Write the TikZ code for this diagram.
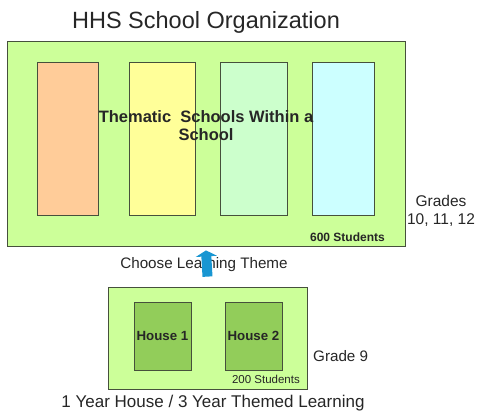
\documentclass[tikz,border=0pt]{standalone}
\usepackage{xcolor}
\usepackage{fontspec}
\setmainfont{Liberation Sans}
\usepackage{tikz}
\usetikzlibrary{arrows.meta}
\definecolor{HHSLime}{RGB}{204,255,153}
\definecolor{HHSOrange}{RGB}{255,204,153}
\definecolor{HHSYellow}{RGB}{255,255,153}
\definecolor{HHSMint}{RGB}{204,255,204}
\definecolor{HHSCyan}{RGB}{204,255,255}
\definecolor{HHSHouse}{RGB}{146,205,90}
\definecolor{HHSBlue}{RGB}{25,150,210}
\definecolor{HHSLine}{RGB}{70,80,60}

\begin{document}
\begin{tikzpicture}[x=1pt, y=-1pt, every node/.style={inner sep=0pt, text=black!85}]
    \useasboundingbox (0,0) rectangle (477,420);
    \node (Title) at (206,22) {\fontsize{23.5}{28}\selectfont HHS School Organization};

    \node (Upper) [draw=HHSLine, line width=0.8pt, rectangle, minimum width=398, minimum height=205, fill=HHSLime] at (206,144) {};
    \node (Col1) [draw=HHSLine, line width=0.8pt, rectangle, minimum width=61, minimum height=153, fill=HHSOrange] at (67.5,138.5) {};
    \node (Col2) [draw=HHSLine, line width=0.8pt, rectangle, minimum width=66, minimum height=153, fill=HHSYellow] at (162,138.5) {};
    \node (Col3) [draw=HHSLine, line width=0.8pt, rectangle, minimum width=67, minimum height=153, fill=HHSMint] at (253.5,138.5) {};
    \node (Col4) [draw=HHSLine, line width=0.8pt, rectangle, minimum width=62, minimum height=153, fill=HHSCyan] at (343,138.5) {};
    \node (Thematic) [align=center, font=\bfseries\fontsize{16.5}{18}\selectfont] at (206,126) {Thematic\ \ Schools Within a\\School};
    \node (Six) [anchor=east, font=\bfseries\fontsize{12}{14}\selectfont] at (385,237) {600 Students};
    \node (Grades) [align=center, font=\fontsize{15.5}{18}\selectfont] at (441,211) {Grades\\10, 11, 12};

    \node (Choose) [font=\fontsize{15.2}{18}\selectfont] at (204,265) {Choose Learning Theme};

    \node (Lower) [draw=HHSLine, line width=0.8pt, rectangle, minimum width=199, minimum height=102, fill=HHSLime] at (207.5,338) {};
    \node (House1) [draw=HHSLine, line width=0.8pt, rectangle, minimum width=57, minimum height=68, fill=HHSHouse, font=\bfseries\fontsize{13.3}{15}\selectfont] at (162.5,336) {House 1};
    \node (House2) [draw=HHSLine, line width=0.8pt, rectangle, minimum width=57, minimum height=68, fill=HHSHouse, font=\bfseries\fontsize{13.3}{15}\selectfont] at (253.5,336) {House 2};
    \node (Two) [anchor=east, font=\fontsize{11.5}{13}\selectfont] at (300,379) {200 Students};
    \node (Grade9) [anchor=west, font=\fontsize{15.2}{18}\selectfont] at (313,356) {Grade 9};

    \node (Bottom) [font=\fontsize{17}{20}\selectfont] at (213,403) {1 Year House / 3 Year Themed Learning};

    \draw[HHSBlue, line width=10pt, -{Triangle[width=21pt, length=6pt]}] ([yshift=10pt]Lower.north) -- ([yshift=-3.5pt]Upper.south);
\end{tikzpicture}
\end{document}
